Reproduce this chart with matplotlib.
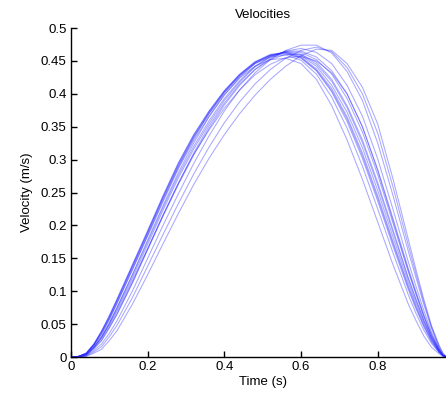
import numpy as np
import matplotlib
matplotlib.use("Agg")
import matplotlib.pyplot as plt

plt.rcParams["font.family"] = ["Liberation Sans", "DejaVu Sans"]

# sample times (s)
time_s = [0.00, 0.02, 0.04, 0.06, 0.08, 0.10, 0.12, 0.16, 0.20, 0.24, 0.28, 0.32,
          0.36, 0.40, 0.44, 0.48, 0.52, 0.56, 0.60, 0.64, 0.68, 0.72, 0.76, 0.80,
          0.84, 0.88, 0.90, 0.92, 0.94, 0.96, 0.97, 0.98]

# velocity of each trial (m/s)
trials = [
    [0, .001, .006, .020, .040, .063, .088, .140, .192, .245, .295, .338, .374, .405, .430, .449,
     .460, .463, .456, .438, .408, .365, .310, .245, .175, .108, .078, .050, .026, .008, .002, 0],
    [0, .001, .006, .019, .038, .060, .085, .137, .189, .242, .292, .335, .372, .404, .429, .448,
     .458, .461, .454, .435, .403, .358, .302, .237, .168, .102, .073, .046, .023, .007, .002, 0],
    [0, .001, .005, .018, .036, .057, .081, .132, .184, .236, .286, .329, .366, .399, .425, .446,
     .458, .464, .460, .445, .419, .379, .326, .261, .189, .118, .086, .056, .029, .009, .002, 0],
    [0, .001, .004, .016, .032, .052, .075, .124, .175, .227, .276, .320, .359, .393, .420, .442,
     .457, .464, .463, .452, .430, .393, .342, .277, .203, .129, .095, .062, .032, .010, .003, 0],
    [0, .001, .005, .018, .035, .057, .082, .133, .185, .238, .288, .332, .370, .402, .427, .446,
     .456, .459, .451, .430, .395, .348, .290, .225, .158, .094, .066, .041, .021, .007, .002, 0],
    [0, .001, .006, .019, .038, .060, .085, .136, .188, .241, .290, .334, .370, .402, .428, .447,
     .459, .463, .458, .442, .413, .372, .318, .253, .182, .113, .082, .053, .028, .009, .002, 0],
    [0, .001, .006, .020, .039, .062, .087, .139, .191, .244, .294, .337, .373, .404, .429, .448,
     .459, .462, .455, .436, .405, .362, .306, .241, .172, .105, .075, .048, .025, .008, .002, 0],
    [0, .001, .004, .015, .030, .051, .075, .125, .178, .230, .280, .325, .365, .398, .424, .442,
     .452, .454, .446, .422, .382, .330, .270, .205, .140, .080, .055, .032, .015, .005, .001, 0],
    [0, .001, .004, .015, .030, .050, .072, .120, .171, .223, .272, .316, .355, .390, .418, .441,
     .456, .465, .465, .456, .435, .400, .350, .285, .210, .134, .099, .065, .035, .011, .003, 0],
    [0, .000, .003, .013, .026, .045, .065, .112, .163, .214, .262, .307, .347, .383, .413, .437,
     .454, .465, .469, .463, .446, .413, .366, .301, .224, .144, .107, .071, .038, .012, .003, 0],
    [0, .000, .002, .008, .016, .031, .048, .090, .138, .186, .233, .278, .319, .356, .388, .415,
     .437, .454, .466, .471, .464, .440, .400, .340, .258, .169, .126, .084, .046, .016, .005, 0],
    [0, .001, .004, .015, .029, .048, .069, .116, .165, .216, .264, .308, .345, .378, .406, .429,
     .445, .455, .457, .450, .432, .400, .350, .283, .207, .131, .096, .062, .033, .012, .003, 0],
    [0, .000, .003, .013, .025, .044, .065, .113, .164, .215, .264, .310, .351, .386, .415, .437,
     .452, .460, .460, .448, .422, .382, .330, .265, .193, .120, .088, .056, .030, .010, .002, 0],
    [0, .000, .002, .010, .020, .036, .055, .100, .150, .200, .248, .294, .336, .374, .406, .432,
     .452, .466, .474, .474, .462, .434, .390, .325, .245, .160, .120, .080, .044, .014, .003, 0],
    [0, .000, .001, .006, .012, .025, .040, .080, .125, .172, .218, .262, .302, .338, .370, .398,
     .422, .442, .458, .468, .466, .446, .410, .354, .270, .178, .132, .088, .048, .018, .006, 0],
]

x_ticks = [0, 0.2, 0.4, 0.6, 0.8]
y_ticks = [0, 0.05, 0.1, 0.15, 0.2, 0.25, 0.3, 0.35, 0.4, 0.45, 0.5]

fig = plt.figure(figsize=(4.46, 3.95), dpi=100)
ax = fig.add_axes([0.159, 0.096, 0.86, 0.833])

for v in trials:
    ax.plot(time_s, v, color=(0.15, 0.15, 1.0), alpha=0.4, lw=0.75)

ax.set_xlim(0, 1)
ax.set_ylim(0, 0.5)
ax.set_xticks(x_ticks)
ax.set_xticklabels([f"{t:g}" for t in x_ticks])
ax.set_yticks(y_ticks)
ax.set_yticklabels([f"{t:g}" for t in y_ticks])
ax.spines["top"].set_visible(False)
ax.spines["right"].set_visible(False)
for s in ("left", "bottom"):
    ax.spines[s].set_linewidth(1.0)
ax.tick_params(direction="in", length=4, width=1.0, labelsize=9.5, pad=3)

ax.set_title("Velocities", fontsize=9.5, pad=7)
ax.set_xlabel("Time (s)", fontsize=9.5, labelpad=2)
ax.set_ylabel("Velocity (m/s)", fontsize=9.5, labelpad=6)

fig.savefig("out.png", dpi=100)
